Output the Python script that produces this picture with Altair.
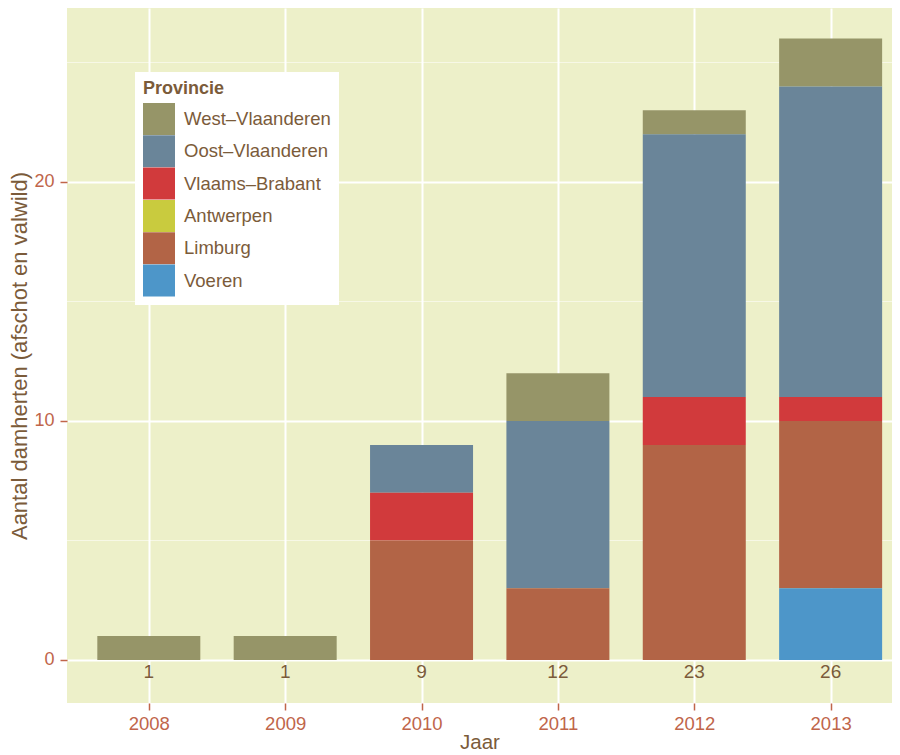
import altair as alt
import pandas as pd

# ---- data ----
jaren = [2008, 2009, 2010, 2011, 2012, 2013]
provincies = ["West–Vlaanderen", "Oost–Vlaanderen", "Vlaams–Brabant", "Antwerpen", "Limburg", "Voeren"]
kleuren = ["#969568", "#6A8599", "#D13A3C", "#C9CB3E", "#B26446", "#4D96C9"]
# stack order from bottom to top
stapel_volgorde = ["Voeren", "Limburg", "Antwerpen", "Vlaams–Brabant", "Oost–Vlaanderen", "West–Vlaanderen"]

west_vlaanderen = [1, 1, 0, 2, 1, 2]
oost_vlaanderen = [0, 0, 2, 7, 11, 13]
vlaams_brabant = [0, 0, 2, 0, 2, 1]
antwerpen = [0, 0, 0, 0, 0, 0]
limburg = [0, 0, 5, 3, 9, 7]
voeren = [0, 0, 0, 0, 0, 3]

y_major = [0, 10, 20]
y_minor = [5, 15, 25]
totaal_label_y = -0.5

reeksen = {
    "West–Vlaanderen": west_vlaanderen,
    "Oost–Vlaanderen": oost_vlaanderen,
    "Vlaams–Brabant": vlaams_brabant,
    "Antwerpen": antwerpen,
    "Limburg": limburg,
    "Voeren": voeren,
}

rows = []
for prov, vals in reeksen.items():
    for j, v in zip(jaren, vals):
        rows.append({"jaar": j, "provincie": prov, "aantal": v,
                     "volgorde": stapel_volgorde.index(prov)})
df = pd.DataFrame(rows)
minor_df = pd.DataFrame({"aantal": y_minor})

BG = "#EDF0C9"
BROWN = "#7B5B3A"
ORANGE = "#C0654A"
FONT = "Liberation Sans"

x_scale = alt.Scale(domain=[2007.4, 2013.45], nice=False, zero=False, padding=0)
y_scale = alt.Scale(domain=[-1.8, 27.28], nice=False, zero=False, padding=0)

x_axis = alt.Axis(values=jaren, format="d", title="Jaar",
                  labelColor=ORANGE, tickColor=ORANGE, labelFontSize=18.5,
                  titleFontSize=20.5, titleColor=BROWN, titleFontWeight="normal",
                  tickSize=7, tickWidth=1.5, labelPadding=4, titlePadding=0,
                  grid=True, gridColor="white", gridWidth=2, domain=False,
                  labelFont=FONT, titleFont=FONT)
y_axis = alt.Axis(values=y_major, title="Aantal damherten (afschot en valwild)",
                  labelColor=ORANGE, tickColor=ORANGE, labelFontSize=18,
                  titleFontSize=22, titleColor=BROWN, titleFontWeight="normal",
                  tickSize=7, tickWidth=1.5, labelPadding=6, titlePadding=2,
                  grid=True, gridColor="white", gridWidth=2, domain=False,
                  labelFont=FONT, titleFont=FONT)

minor = alt.Chart(minor_df).mark_rule(color="white", strokeWidth=1, opacity=0.55).encode(
    y=alt.Y("aantal:Q", scale=y_scale, axis=y_axis)
)

bars = alt.Chart(df).transform_filter("datum.aantal > 0").mark_bar(size=103).encode(
    x=alt.X("jaar:Q", scale=x_scale, axis=x_axis),
    y=alt.Y("aantal:Q", stack="zero", scale=y_scale, axis=y_axis),
    color=alt.Color("provincie:N",
                    scale=alt.Scale(domain=provincies, range=kleuren),
                    legend=alt.Legend(title="Provincie", orient="none",
                                      legendX=68, legendY=64,
                                      fillColor="white", padding=8,
                                      symbolType="square", symbolSize=1024,
                                      symbolStrokeWidth=0, symbolOpacity=1,
                                      rowPadding=0.3, labelOffset=9,
                                      labelFontSize=18.5, labelColor=BROWN, labelFont=FONT,
                                      titleFontSize=18, titleColor=BROWN, titleFont=FONT,
                                      titleFontWeight="bold", titlePadding=5,
                                      labelLimit=300)),
    order=alt.Order("volgorde:Q", sort="ascending"),
)

totals = alt.Chart(df).transform_aggregate(
    totaal="sum(aantal)", groupby=["jaar"]
).transform_calculate(ypos=str(totaal_label_y)).mark_text(
    color=BROWN, fontSize=19, font=FONT, baseline="middle"
).encode(
    x=alt.X("jaar:Q", scale=x_scale, axis=x_axis),
    y=alt.Y("ypos:Q", scale=y_scale, axis=y_axis),
    text=alt.Text("totaal:Q", format="d"),
)

chart = alt.layer(minor, bars, totals).properties(
    width=825, height=695,
    background="white",
    autosize=alt.AutoSizeParams(type="none"),
    padding={"left": 59, "top": 0, "right": 0, "bottom": 52},
).configure_view(fill=BG, stroke=None)

chart.save("out.html", embed_options={"renderer": "svg", "actions": False})
